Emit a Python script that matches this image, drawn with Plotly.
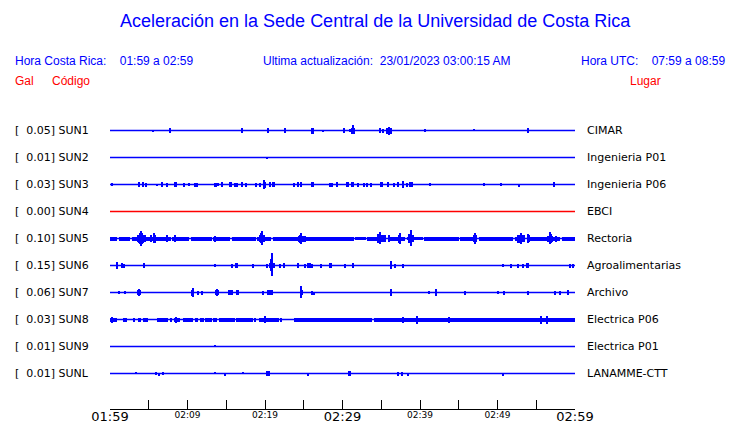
import plotly.graph_objects as go

# ---------------- data ----------------
STATIONS = ["SUN1", "SUN2", "SUN3", "SUN4", "SUN5", "SUN6", "SUN7", "SUN8", "SUN9", "SUNL"]
GAL = [0.05, 0.01, 0.03, 0.00, 0.10, 0.15, 0.06, 0.03, 0.01, 0.01]
PLACES = ["CIMAR", "Ingenieria P01", "Ingenieria P06", "EBCI", "Rectoria",
          "Agroalimentarias", "Archivo", "Electrica P06", "Electrica P01", "LANAMME-CTT"]
TRACE_COLORS = ["#0000ff", "#0000ff", "#0000ff", "#ff0000", "#0000ff",
                "#0000ff", "#0000ff", "#0000ff", "#0000ff", "#0000ff"]

# time axis (minutes after 01:59)
TICK_MIN = [0, 5, 10, 15, 20, 25, 30, 35, 40, 45, 50, 55, 60]
MAJOR_TICKS = {0: "01:59", 30: "02:29", 60: "02:59"}
MINOR_TICKS = {10: "02:09", 20: "02:19", 40: "02:39", 50: "02:49"}

# events: (minute, amplitude up, amplitude down, duration seconds) - amplitude in display units
SUN1_EV = [(5.5, 0, 1, 8), (7.7, 2, 2, 8), (17.0, 2, 2, 16), (20.4, 2, 2, 8), (22.6, 2, 2, 8),
           (26.1, 2.5, 2.5, 24), (27.5, 0, 1, 8), (30.2, 2, 2, 8), (31.0, 1, 1, 8), (31.4, 5, 3, 8),
           (31.4, 2.5, 2.5, 30), (34.9, 2, 2, 8), (35.2, 1.5, 1.5, 8), (36.0, 3.5, 3.5, 8),
           (36.0, 2.5, 2.5, 40), (40.7, 1, 1, 8), (47.0, 1, 0, 8), (54.0, 2, 2, 8)]
SUN2_EV = [(20.3, 0, 1, 8)]
SUN3_EV = [(0.3, 1, 1, 8), (3.7, 2, 2, 16), (4.3, 2, 2, 16), (4.7, 1.5, 1.5, 8), (6.1, 0, 1, 8),
           (6.7, 2, 2, 16), (7.4, 1.5, 1.5, 8), (8.4, 2, 2, 24), (9.6, 1.5, 1.5, 8), (10.2, 1, 1, 8),
           (11.0, 1.5, 1.5, 8), (11.2, 1.5, 1.5, 8), (13.5, 1.5, 1.5, 8), (13.7, 1.5, 1.5, 8),
           (14.0, 1, 1, 8), (14.5, 2, 2, 16), (15.6, 2, 2, 24), (16.1, 1.5, 1.5, 8), (16.4, 1.5, 1.5, 8),
           (17.0, 2, 2, 16), (17.6, 1.5, 1.5, 8), (18.9, 1.5, 1.5, 8), (19.4, 1.5, 1.5, 8),
           (19.9, 4, 4, 8), (19.9, 2.5, 2.5, 24), (20.6, 2, 2, 16), (21.1, 2, 2, 16),
           (23.7, 1.5, 1.5, 8), (24.3, 2, 2, 16), (24.6, 2, 2, 16), (26.1, 2, 2, 24),
           (28.4, 1.5, 1.5, 8), (28.7, 1.5, 1.5, 8), (29.3, 2, 2, 16), (30.6, 2, 2, 24),
           (31.3, 2, 2, 24), (32.0, 1.5, 1.5, 8), (32.8, 1.5, 1.5, 8), (33.1, 1.5, 1.5, 8),
           (33.7, 1.5, 1.5, 8), (35.0, 2, 2, 24), (35.9, 2, 2, 16), (36.7, 1.5, 1.5, 8),
           (37.2, 2, 2, 16), (37.8, 3, 3, 8), (38.3, 1.5, 1.5, 8), (38.8, 2, 2, 32),
           (41.3, 1, 1, 8), (48.3, 1, 1, 8), (50.5, 1, 1, 8), (52.8, 0, 1.5, 8), (57.3, 2, 2, 16)]
SUN4_EV = []
SUN5_EV = [(3.6, 3, 3, 16), (4.0, 7, 7, 8), (4.0, 5, 5, 24), (4.0, 3.5, 3.5, 48), (4.5, 3, 3, 16),
           (5.3, 3, 3, 8), (5.7, 5, 4, 8), (5.7, 3.5, 3.5, 24), (7.3, 3, 3, 8), (8.4, 3, 3, 8),
           (13.5, 2.5, 2.5, 8), (19.6, 7, 6, 8), (19.6, 5, 4, 24), (19.6, 3, 3, 48),
           (24.6, 5, 5, 8), (24.6, 3.5, 3.5, 24), (24.6, 2.5, 2.5, 48), (25.2, 2.5, 2.5, 16),
           (34.6, 4, 4, 24), (34.8, 6, 5, 8), (34.9, 3, 3, 60), (35.5, 3, 3, 16), (36.0, 3, 3, 16),
           (37.4, 5, 5, 8), (37.4, 3.5, 3.5, 24), (38.7, 4, 4, 24), (38.8, 8, 7, 8), (38.9, 3, 3, 36),
           (47.1, 5, 5, 8), (47.1, 3, 3, 24), (52.8, 3.5, 3.5, 40), (53.0, 5, 5, 8), (53.2, 3, 3, 48),
           (54.0, 4, 4, 8), (54.0, 3, 3, 24), (56.8, 6, 5, 8), (56.8, 4, 4, 24), (56.8, 2.5, 2.5, 48),
           (57.5, 2.5, 2.5, 16)]
SUN6_EV = [(0.9, 3, 3, 8), (1.5, 2, 2, 16), (1.8, 1.5, 1.5, 8), (4.4, 2, 2, 16), (13.5, 1, 1, 8),
           (15.7, 1.5, 1.5, 8), (16.3, 2, 2, 24), (18.5, 1.5, 1.5, 8), (20.2, 1.5, 1.5, 8),
           (20.6, 2, 2, 16), (20.8, 6, 5, 16), (20.9, 12, 10, 8), (21.2, 2, 2, 16), (21.9, 1.5, 1.5, 8),
           (22.4, 2, 2, 16), (24.3, 2, 2, 16), (25.2, 1.5, 1.5, 8), (25.7, 2, 2, 32), (26.1, 1.5, 1.5, 8),
           (27.2, 1.5, 1.5, 8), (28.5, 2, 2, 24), (30.3, 1.5, 1.5, 8), (31.3, 2, 2, 16),
           (36.2, 4, 3, 8), (36.2, 2, 2, 16), (36.8, 1.5, 1.5, 8), (37.8, 1.5, 1.5, 8), (50.7, 1, 1, 8),
           (51.7, 1.5, 1.5, 8), (52.6, 1.5, 1.5, 8), (53.3, 1.5, 1.5, 8), (53.9, 2, 2, 24),
           (59.3, 1.5, 1.5, 8), (59.8, 1.5, 1.5, 8)]
SUN7_EV = [(1.2, 1, 1, 8), (2.0, 1, 1, 8), (3.7, 3, 3, 8), (3.7, 2, 2, 32), (10.7, 4, 4, 8),
           (10.7, 2.5, 2.5, 24), (11.3, 1.5, 1.5, 8), (11.9, 1.5, 1.5, 8), (13.8, 3, 3, 8),
           (13.8, 2, 2, 24), (15.6, 2, 2, 40), (16.4, 2, 2, 24), (19.7, 1.5, 1.5, 8), (20.6, 2, 2, 48),
           (24.7, 2, 2, 24), (24.7, 6, 5, 8), (26.1, 1.5, 1.5, 8), (26.3, 0, 1.5, 8),
           (36.3, 3, 3, 8), (36.3, 2, 2, 16), (41.2, 1, 1, 8), (42.1, 3, 3, 8), (42.1, 2, 2, 16),
           (45.8, 1.5, 1.5, 8), (50.1, 1, 1, 8), (50.8, 1.5, 1.5, 8), (54.0, 1.5, 1.5, 8),
           (57.4, 1.5, 1.5, 8), (58.1, 1.5, 1.5, 8), (59.1, 2, 2, 16)]
SUN8_EV = [(0.3, 2.5, 2.5, 16), (8.5, 2.5, 2.5, 8), (20.0, 3, 3, 8), (37.8, 2.5, 2.5, 8),
           (39.6, 3.5, 3.5, 8), (43.8, 2.5, 2.5, 8), (55.6, 3.5, 3.5, 8), (56.4, 3.5, 3.5, 16)]
SUN9_EV = [(13.5, 1, 0, 8)]
SUNL_EV = [(3.3, 1, 0, 8), (6.0, 1, 1, 8), (6.3, 0, 1.5, 8), (6.9, 1, 1, 8), (13.5, 1, 0, 8),
           (14.9, 0, 1.5, 8), (17.2, 1, 0, 8), (20.4, 2, 2, 32), (25.5, 0, 1.5, 8), (30.9, 2, 2, 24),
           (37.1, 1.5, 1.5, 8), (37.7, 1.5, 1.5, 8), (38.4, 0, 1.5, 8), (50.7, 0, 1.5, 8)]

# continuous noise bands: (start minute, end minute, half amplitude)
SUN5_BAND = [(0.0, 0.9, 2), (1.1, 2.6, 2), (2.8, 5.3, 2), (5.4, 7.9, 2), (8.0, 10.2, 2),
             (10.4, 13.2, 2), (13.3, 15.5, 2), (15.7, 18.9, 2), (19.0, 20.8, 2), (21.0, 24.3, 2),
             (24.5, 31.5, 2), (31.6, 33.0, 1.5), (33.2, 35.6, 2), (36.0, 38.0, 2), (38.3, 40.4, 1.5),
             (40.5, 45.0, 2), (45.2, 47.4, 2), (47.6, 52.0, 2), (52.2, 53.6, 2), (53.8, 56.6, 2),
             (56.8, 58.0, 2), (58.3, 60.0, 2)]
SUN8_BAND = [(0.0, 0.9, 2), (1.7, 2.2, 2), (3.0, 3.2, 2), (3.6, 4.0, 2), (4.3, 4.9, 2), (6.1, 7.5, 2),
             (7.7, 8.0, 2), (8.3, 9.0, 2), (9.4, 10.7, 2), (11.0, 11.4, 2), (11.6, 12.1, 2),
             (12.3, 13.1, 2), (13.3, 13.8, 2), (14.1, 16.1, 2), (16.3, 18.5, 2), (18.7, 18.9, 2),
             (19.2, 21.8, 2), (21.9, 22.2, 2), (23.7, 33.8, 2), (34.0, 60.0, 2)]

EVENTS = [SUN1_EV, SUN2_EV, SUN3_EV, SUN4_EV, SUN5_EV, SUN6_EV, SUN7_EV, SUN8_EV, SUN9_EV, SUNL_EV]
BANDS = [[], [], [], [], SUN5_BAND, [], [], SUN8_BAND, [], []]

# ---------------- layout geometry ----------------
W, H = 740, 423
L, R = 110, 575          # plot x extent (px)
AX_Y = 409               # time axis (px from top)
ROW0, ROW_DY = 130.5, 27.0
AMP_SCALE = 1.0 / ROW_DY  # display units -> row units

y_top = -ROW0 / ROW_DY
y_bot = y_top + AX_Y / ROW_DY

FONT_TXT = "DejaVu Sans"
FONT_HDR = "Liberation Sans, Arial"

fig = go.Figure()

for i, st in enumerate(STATIONS):
    col = TRACE_COLORS[i]
    fig.add_trace(go.Scatter(x=[0, 60], y=[i, i], mode="lines",
                             line=dict(color=col, width=1.5), hoverinfo="skip", showlegend=False))
    xs, bases, hs, ws = [], [], [], []
    for (s, e, a) in BANDS[i]:
        xs.append((s + e) / 2); ws.append(e - s)
        bases.append(i - a * AMP_SCALE); hs.append(2 * a * AMP_SCALE)
    for (t, up, dn, dur) in EVENTS[i]:
        xs.append(t); ws.append(dur / 60.0)
        bases.append(i - up * AMP_SCALE - 0.5 * AMP_SCALE)
        hs.append((up + dn + 1.0) * AMP_SCALE)
    if xs:
        fig.add_trace(go.Bar(x=xs, y=hs, base=bases, width=ws, marker=dict(color=col, line=dict(width=0)),
                             hoverinfo="skip", showlegend=False))

# invisible trace for overlaid minor-label axis
fig.add_trace(go.Scatter(x=[0, 60], y=[0, 0], xaxis="x2", mode="lines",
                         line=dict(width=0), hoverinfo="skip", showlegend=False, opacity=0))

def px_x(px):
    return (px - L) / (R - L)

def px_y(py):
    return (AX_Y - py) / AX_Y

ann = []
for i, st in enumerate(STATIONS):
    ann.append(dict(x=px_x(13), xref="paper", y=i, yref="y", xanchor="left", yanchor="middle",
                    text=f"[\u00a0\u00a0{GAL[i]:.2f}] {st}", showarrow=False,
                    font=dict(family=FONT_TXT, size=11, color="black")))
    ann.append(dict(x=px_x(585), xref="paper", y=i, yref="y", xanchor="left", yanchor="middle",
                    text=PLACES[i], showarrow=False,
                    font=dict(family=FONT_TXT, size=11, color="black")))

blue = "#0000ff"
red = "#ff0000"
hdr = [
    (375, 21, "center", "Aceleración en la Sede Central de la Universidad de Costa Rica", 18, blue),
    (13, 61, "left", "Hora Costa Rica:\u00a0\u00a0\u00a0 01:59 a 02:59", 12, blue),
    (387, 61, "center", "Ultima actualización:\u00a0 23/01/2023 03:00:15 AM", 12, blue),
    (727, 61, "right", "Hora UTC:\u00a0\u00a0\u00a0 07:59 a 08:59", 12, blue),
    (13, 81, "left", "Gal", 12, red),
    (50, 81, "left", "Código", 12, red),
    (628, 81, "left", "Lugar", 12, red),
]
for (x, y, anc, txt, sz, c) in hdr:
    ann.append(dict(x=px_x(x), xref="paper", y=px_y(y), yref="paper", xanchor=anc, yanchor="middle",
                    text=txt, showarrow=False, font=dict(family=FONT_HDR, size=sz, color=c)))

fig.update_layout(
    width=W, height=H,
    margin=dict(l=L, r=W - R, t=0, b=H - AX_Y, pad=0, autoexpand=False),
    paper_bgcolor="white", plot_bgcolor="white",
    barmode="overlay", bargap=0,
    showlegend=False,
    annotations=ann,
    xaxis=dict(range=[0, 60], tickmode="array", tickvals=TICK_MIN,
               ticktext=[MAJOR_TICKS.get(t, "") for t in TICK_MIN],
               ticks="inside", ticklen=9, tickwidth=1, tickcolor="black",
               showline=True, linecolor="black", linewidth=1, showgrid=False, zeroline=False,
               tickfont=dict(family=FONT_TXT, size=13, color="black"), automargin=False,
               ticklabelstandoff=-5, fixedrange=True),
    xaxis2=dict(range=[0, 60], overlaying="x", side="bottom", anchor="y", tickmode="array",
                tickvals=list(MINOR_TICKS.keys()), ticktext=list(MINOR_TICKS.values()),
                ticks="", showline=False, showgrid=False, zeroline=False,
                tickfont=dict(family=FONT_TXT, size=9, color="black"), automargin=False,
                ticklabelstandoff=-1),
    yaxis=dict(range=[y_bot, y_top], visible=False, showgrid=False, zeroline=False, fixedrange=True),
)

fig.write_html("out.html", config={"displayModeBar": False},
               post_script="document.body.style.margin='0';document.body.style.overflow='hidden';")
